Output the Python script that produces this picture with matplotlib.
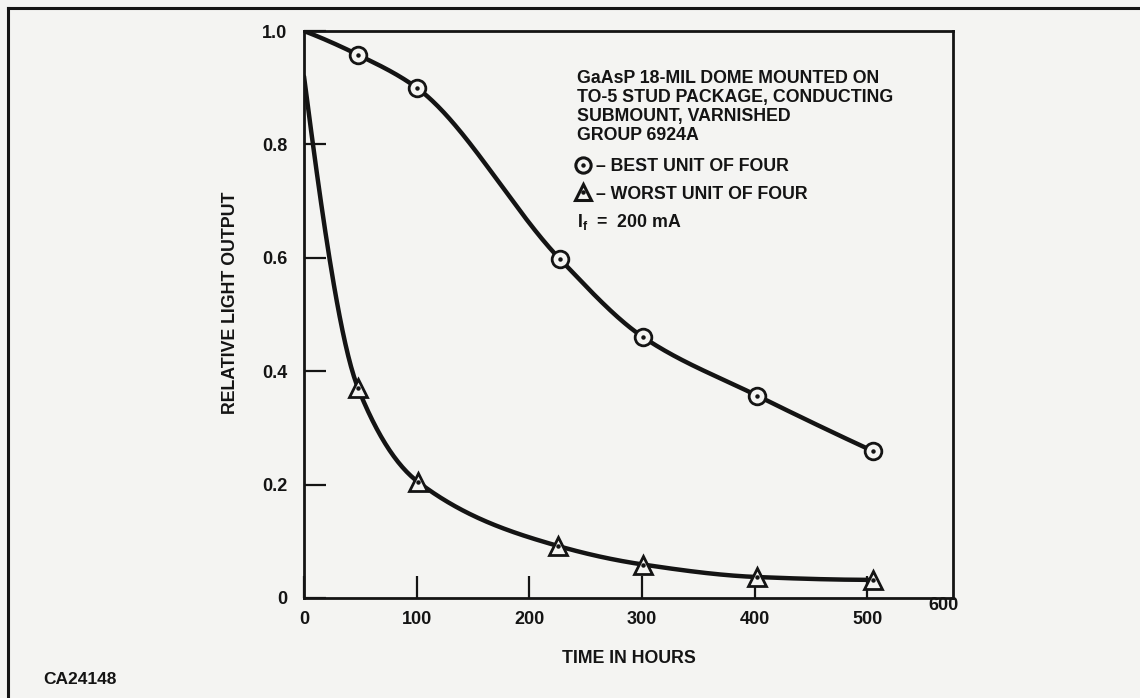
import numpy as np
import matplotlib
matplotlib.use("Agg")
import matplotlib.pyplot as plt
from matplotlib.lines import Line2D
from matplotlib.legend_handler import HandlerTuple

plt.rcParams['font.family'] = ['Liberation Sans', 'DejaVu Sans']

# values
best_hours = [0, 48, 100, 227, 301, 402, 505]
best_output = [1.0, 0.958, 0.900, 0.598, 0.460, 0.357, 0.259]
worst_hours = [0, 48, 101, 225, 301, 402, 505]
worst_output = [0.92, 0.370, 0.205, 0.092, 0.059, 0.037, 0.032]
x_ticks = [0, 100, 200, 300, 400, 500]
y_ticks = [0, 0.2, 0.4, 0.6, 0.8, 1.0]
y_tick_labels = ['0', '0.2', '0.4', '0.6', '0.8', '1.0']

INK = '#141414'
PAPER = '#f4f4f2'
FS = 12.8


def pchip(x, y, xs):
    # monotone cubic curve through the measured points (smooth drawing only)
    x = np.asarray(x, float)
    y = np.asarray(y, float)
    h = np.diff(x)
    d = np.diff(y) / h
    m = np.zeros_like(y)
    for k in range(1, len(x) - 1):
        if d[k - 1] * d[k] > 0:
            w1 = 2 * h[k] + h[k - 1]
            w2 = h[k] + 2 * h[k - 1]
            m[k] = (w1 + w2) / (w1 / d[k - 1] + w2 / d[k])
    m[0] = ((2 * h[0] + h[1]) * d[0] - h[0] * d[1]) / (h[0] + h[1])
    if np.sign(m[0]) != np.sign(d[0]):
        m[0] = 0
    m[-1] = ((2 * h[-1] + h[-2]) * d[-1] - h[-1] * d[-2]) / (h[-1] + h[-2])
    if np.sign(m[-1]) != np.sign(d[-1]):
        m[-1] = 0
    idx = np.clip(np.searchsorted(x, xs) - 1, 0, len(x) - 2)
    t = (xs - x[idx]) / h[idx]
    h00 = 2 * t**3 - 3 * t**2 + 1
    h10 = t**3 - 2 * t**2 + t
    h01 = -2 * t**3 + 3 * t**2
    h11 = t**3 - t**2
    return h00 * y[idx] + h10 * h[idx] * m[idx] + h01 * y[idx + 1] + h11 * h[idx] * m[idx + 1]


fig = plt.figure(figsize=(11.4, 6.98), dpi=100, facecolor=PAPER)
ax = fig.add_axes([304 / 1140, 100 / 698, 649 / 1140, 567 / 698], facecolor=PAPER)

for xs_, ys_, marker, ms in [(best_hours, best_output, 'o', 12),
                             (worst_hours, worst_output, '^', 13)]:
    xx = np.linspace(xs_[0], xs_[-1], 400)
    ax.plot(xx, pchip(xs_, ys_, xx), color=INK, lw=3.2, solid_capstyle='round', zorder=2)
    ax.plot(xs_[1:], ys_[1:], ls='none', marker=marker, ms=ms, mfc=PAPER, mec=INK, mew=2.0, zorder=3)
    ax.plot(xs_[1:], ys_[1:], ls='none', marker='o', ms=2.2, color=INK, zorder=4)

ax.set_xlim(0, 576)
ax.set_ylim(0, 1.0)
ax.set_xticks(x_ticks)
ax.set_yticks(y_ticks)
ax.set_yticklabels(y_tick_labels)
ax.tick_params(direction='in', length=16, width=1.6, color=INK, labelsize=13, labelcolor=INK)
ax.tick_params(axis='y', pad=12)
ax.tick_params(axis='x', pad=9)
for lab in ax.get_xticklabels() + ax.get_yticklabels():
    lab.set_fontweight('bold')
for sp in ax.spines.values():
    sp.set_linewidth(2.0)
    sp.set_color(INK)

ax.text(0.985, -0.013, '600', transform=ax.transAxes, ha='center', va='center',
        fontsize=13, fontweight='bold', color=INK)

ax.set_xlabel('TIME IN HOURS', fontsize=FS, fontweight='bold', color=INK)
ax.xaxis.set_label_coords(0.5, -0.092)
ax.set_ylabel('RELATIVE LIGHT OUTPUT', fontsize=FS, fontweight='bold', color=INK)
ax.yaxis.set_label_coords(-0.1, 0.52)

ax.text(0.4206, 0.866, 'GaAsP 18-MIL DOME MOUNTED ON\nTO-5 STUD PACKAGE, CONDUCTING\n'
        'SUBMOUNT, VARNISHED\nGROUP 6924A', transform=ax.transAxes, ha='left', va='center',
        fontsize=FS, fontweight='bold', color=INK, linespacing=1.15)

h_best = (Line2D([], [], ls='none', marker='o', ms=11, mfc=PAPER, mec=INK, mew=2.2),
          Line2D([], [], ls='none', marker='o', ms=2.2, color=INK))
h_worst = (Line2D([], [], ls='none', marker='^', ms=12, mfc=PAPER, mec=INK, mew=2.2),
           Line2D([], [], ls='none', marker='o', ms=2.2, color=INK))
ax.legend([h_best, h_worst], ['\u2013 BEST UNIT OF FOUR', '\u2013 WORST UNIT OF FOUR'],
          handler_map={tuple: HandlerTuple(ndivide=None, pad=-1)},
          loc='upper left', bbox_to_anchor=(0.416, 0.776), frameon=False, borderpad=0,
          borderaxespad=0, handlelength=1.0, handletextpad=0.25, labelspacing=0.6,
          prop={'size': FS, 'weight': 'bold'}, labelcolor=INK)

ax.text(0.4206, 0.663, r'I$_{\mathregular{f}}$  =  200 mA', transform=ax.transAxes,
        ha='left', va='center', fontsize=FS, fontweight='bold', color=INK)

fig.text(43 / 1140, 1 - 680 / 698, 'CA24148', ha='left', va='center',
         fontsize=12.5, fontweight='bold', color=INK)

# scanned sheet border (left and top edges)
fig.add_artist(Line2D([8 / 1140, 8 / 1140], [0, 1 - 8 / 698], transform=fig.transFigure,
                      color=INK, lw=2.2))
fig.add_artist(Line2D([8 / 1140, 1], [1 - 8 / 698, 1 - 8 / 698], transform=fig.transFigure,
                      color=INK, lw=2.2))

fig.savefig('out.png', dpi=100, facecolor=PAPER)
